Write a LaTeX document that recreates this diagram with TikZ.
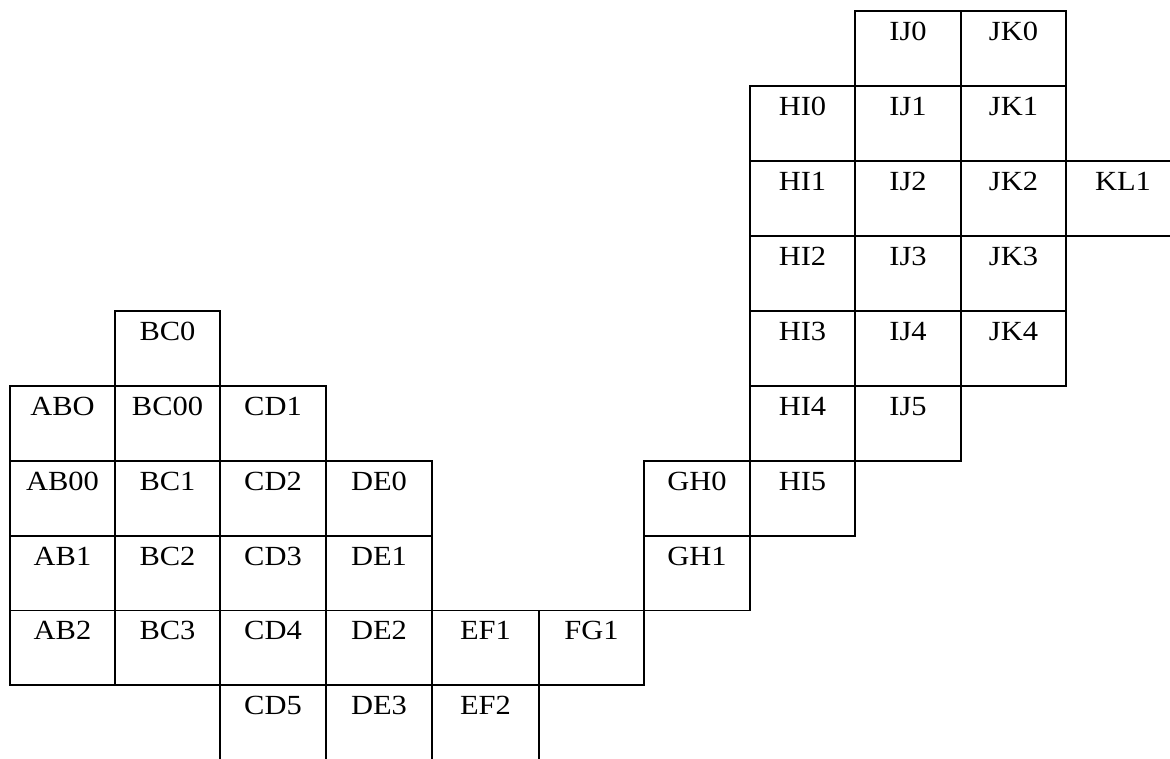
\documentclass[tikz,border=0pt]{standalone}
\usepackage{fontspec}
\setmainfont{Liberation Serif}[FakeStretch=1.1]
\tikzset{
  cellbox/.style={draw, line width=1.8pt, inner sep=0pt, outer sep=0pt, anchor=north west},
  celltext/.style={anchor=base, inner sep=0pt, font=\fontsize{27.7}{30}\selectfont}
}
\newcommand{\mkcell}[5]{%
  \node[cellbox, minimum width={(#3-#1)*1pt}, minimum height={(#4-#2)*1pt}] (#5) at (#1,#2) {};
  \node[celltext] (t#5) at ([yshift=-29.3pt]#5.north) {#5};}
\begin{document}
\begin{tikzpicture}[x=1pt,y=-1pt]
\clip (0,0) rectangle (1170,758);
\fill[white] (0,0) rectangle (1170,758);
% column AB
\mkcell{10}{385.7}{115}{460.7}{ABO}
\mkcell{10}{460.7}{115}{535.7}{AB00}
\mkcell{10}{535.7}{115}{610.5}{AB1}
\mkcell{10}{610.5}{115}{685}{AB2}
% column BC
\mkcell{115}{310.7}{220}{385.7}{BC0}
\mkcell{115}{385.7}{220}{460.7}{BC00}
\mkcell{115}{460.7}{220}{535.7}{BC1}
\mkcell{115}{535.7}{220}{610.5}{BC2}
\mkcell{115}{610.5}{220}{685}{BC3}
% column CD
\mkcell{220}{385.7}{326}{460.7}{CD1}
\mkcell{220}{460.7}{326}{535.7}{CD2}
\mkcell{220}{535.7}{326}{610.5}{CD3}
\mkcell{220}{610.5}{326}{685}{CD4}
\mkcell{220}{685}{326}{768}{CD5}
% column DE
\mkcell{326}{460.7}{432}{535.7}{DE0}
\mkcell{326}{535.7}{432}{610.5}{DE1}
\mkcell{326}{610.5}{432}{685}{DE2}
\mkcell{326}{685}{432}{768}{DE3}
% column EF
\mkcell{432}{610.5}{539}{685}{EF1}
\mkcell{432}{685}{539}{768}{EF2}
% column FG
\mkcell{539}{610.5}{644}{685}{FG1}
% column GH
\mkcell{644}{460.7}{750}{535.7}{GH0}
\mkcell{644}{535.7}{750}{610.5}{GH1}
% column HI
\mkcell{750}{85.7}{855}{161}{HI0}
\mkcell{750}{161}{855}{235.7}{HI1}
\mkcell{750}{235.7}{855}{310.7}{HI2}
\mkcell{750}{310.7}{855}{385.7}{HI3}
\mkcell{750}{385.7}{855}{460.7}{HI4}
\mkcell{750}{460.7}{855}{535.7}{HI5}
% column IJ
\mkcell{855}{11}{961}{85.7}{IJ0}
\mkcell{855}{85.7}{961}{161}{IJ1}
\mkcell{855}{161}{961}{235.7}{IJ2}
\mkcell{855}{235.7}{961}{310.7}{IJ3}
\mkcell{855}{310.7}{961}{385.7}{IJ4}
\mkcell{855}{385.7}{961}{460.7}{IJ5}
% column JK
\mkcell{961}{11}{1066}{85.7}{JK0}
\mkcell{961}{85.7}{1066}{161}{JK1}
\mkcell{961}{161}{1066}{235.7}{JK2}
\mkcell{961}{235.7}{1066}{310.7}{JK3}
\mkcell{961}{310.7}{1066}{385.7}{JK4}
% column KL
\mkcell{1066}{161}{1180}{235.7}{KL1}
\end{tikzpicture}
\end{document}
